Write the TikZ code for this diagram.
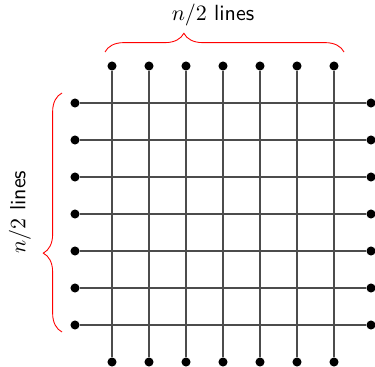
\documentclass[tikz,border=0pt]{standalone}
\usetikzlibrary{decorations.pathreplacing}
\begin{document}
\begin{tikzpicture}[x=0.016cm,y=-0.016cm,
  dot/.style={circle,fill=black,inner sep=0pt,minimum size=0.145cm},
  gridline/.style={draw=black!70,line width=0.55pt},
  bracestyle/.style={draw=red,line width=0.4pt,decorate,decoration={brace,amplitude=0.3cm,aspect=0.33}},
  lbl/.style={font=\sffamily}]
\useasboundingbox (0,0) rectangle (375,367);
\foreach \i/\x in {1/112,2/149,3/186,4/223,5/260,6/297,7/334}{
  \node[dot] (t\i) at (\x,66) {};
  \node[dot] (b\i) at (\x,362) {};
}
\foreach \i/\y in {1/103,2/140,3/177,4/214,5/251,6/288,7/325}{
  \node[dot] (l\i) at (75,\y) {};
  \node[dot] (r\i) at (371,\y) {};
}
\foreach \i in {1,...,7}{
  \draw[gridline] (t\i) -- (b\i);
  \draw[gridline] (l\i) -- (r\i);
}
\coordinate (tb1) at (105,52);
\coordinate (tb2) at (344,52);
\draw[bracestyle] (tb1) -- (tb2);
\node[lbl] (toplabel) at (213,15) {$n/2$ lines};
\coordinate (lb1) at (62,332);
\coordinate (lb2) at (62,93);
\draw[bracestyle] (lb1) -- (lb2);
\node[lbl,rotate=90] (leftlabel) at (20,212) {$n/2$ lines};
\end{tikzpicture}
\end{document}
